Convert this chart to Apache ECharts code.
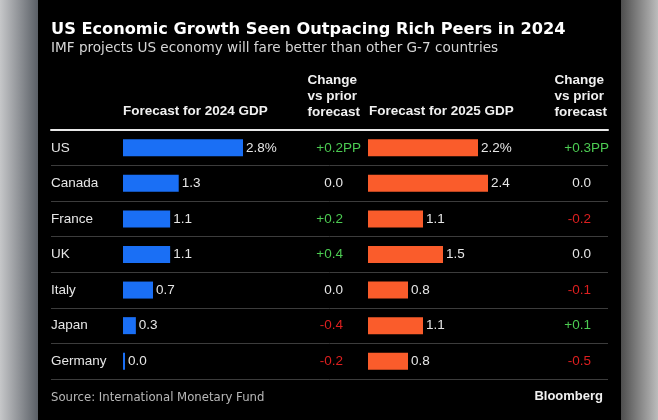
<!DOCTYPE html>
<html>
<head>
<meta charset="utf-8">
<script src="https://cdn.jsdelivr.net/npm/echarts@6/dist/echarts.min.js"></script>
<style>html,body{margin:0;padding:0;background:#000;}#c{width:658px;height:420px;}</style>
</head>
<body>
<div id="c"></div>
<script>
const countries = ['US', 'Canada', 'France', 'UK', 'Italy', 'Japan', 'Germany'];
const gdp2024 = [2.8, 1.3, 1.1, 1.1, 0.7, 0.3, 0.0];
const change2024 = [0.2, 0.0, 0.2, 0.4, 0.0, -0.4, -0.2];
const gdp2025 = [2.2, 2.4, 1.1, 1.5, 0.8, 1.1, 0.8];
const change2025 = [0.3, 0.0, -0.2, 0.0, -0.1, 0.1, -0.5];
const titleText = 'US Economic Growth Seen Outpacing Rich Peers in 2024';
const subtitleText = 'IMF projects US economy will fare better than other G-7 countries';
const header2024 = 'Forecast for 2024 GDP';
const header2025 = 'Forecast for 2025 GDP';
const headerChange = 'Change\nvs prior\nforecast';
const sourceText = 'Source: International Monetary Fund';
const brandText = 'Bloomberg';

const BODY = 'Liberation Sans, Arial, sans-serif';
const fmtVal = (v, i) => v.toFixed(1) + (i === 0 ? '%' : '');
const fmtChg = (v, i) => {
  const s = (v > 0 ? '+' : v < 0 ? '-' : '') + Math.abs(v).toFixed(1);
  const st = v > 0 ? 'g' : v < 0 ? 'r' : 'w';
  return '{' + st + '|' + s + '}' + (i === 0 ? '{' + st + 'p|PP}' : '');
};
const chgRich = {
  g: {color: '#4ccb52', fontFamily: BODY, fontSize: 13.5, align: 'left'},
  r: {color: '#dd1f1f', fontFamily: BODY, fontSize: 13.5, align: 'left'},
  w: {color: '#e6e6e6', fontFamily: BODY, fontSize: 13.5, align: 'left'},
  gp: {color: '#4ccb52', fontFamily: BODY, fontSize: 13.5, width: 0, align: 'left'},
  rp: {color: '#dd1f1f', fontFamily: BODY, fontSize: 13.5, width: 0, align: 'left'},
  wp: {color: '#e6e6e6', fontFamily: BODY, fontSize: 13.5, width: 0, align: 'left'}
};

const chart = echarts.init(document.getElementById('c'), null, {renderer: 'canvas'});
const hidden = {show: false};
const catAxisBase = {
  type: 'category', data: countries, inverse: true,
  axisLine: hidden, axisTick: hidden, splitLine: hidden
};
chart.setOption({
  backgroundColor: '#000',
  animation: false,
  graphic: [
    {type: 'rect', left: 0, top: 0, shape: {width: 38, height: 420},
     style: {fill: new echarts.graphic.LinearGradient(0, 0, 1, 0, [{offset: 0, color: '#c6c7c9'}, {offset: 1, color: '#5a5f66'}])}},
    {type: 'rect', left: 621, top: 0, shape: {width: 37, height: 420},
     style: {fill: new echarts.graphic.LinearGradient(0, 0, 1, 0, [{offset: 0, color: '#4e4e4e'}, {offset: 1, color: '#bcbcbc'}])}},
    {type: 'text', left: 51, top: 22, style: {text: titleText, fill: '#ffffff', font: 'bold 16.2px DejaVu Sans'}},
    {type: 'text', left: 51, top: 41, style: {text: subtitleText, fill: '#d6d6d6', font: '13.6px DejaVu Sans'}},
    {type: 'text', left: 123, top: 104, style: {text: header2024, fill: '#f0f0f0', font: 'bold 13.5px ' + BODY}},
    {type: 'text', left: 369, top: 104, style: {text: header2025, fill: '#f0f0f0', font: 'bold 13.5px ' + BODY}},
    {type: 'text', right: 298, top: 72, style: {text: headerChange, fill: '#f0f0f0', font: 'bold 13.5px ' + BODY, lineHeight: 16, align: 'right'}},
    {type: 'text', right: 51, top: 72, style: {text: headerChange, fill: '#f0f0f0', font: 'bold 13.5px ' + BODY, lineHeight: 16, align: 'right'}},
    {type: 'text', left: 51, top: 392, style: {text: sourceText, fill: '#b8b8b8', font: '11.7px DejaVu Sans'}},
    {type: 'text', right: 55, top: 390, style: {text: brandText, fill: '#f0f0f0', font: 'bold 13px ' + BODY}}
  ],
  grid: [
    {left: 51, top: 130, width: 557, height: 249},
    {left: 123, top: 130, width: 120, height: 249},
    {left: 368, top: 130, width: 120, height: 249}
  ],
  xAxis: [
    {gridIndex: 0, type: 'value', min: 0, max: 1, position: 'top',
     axisLine: {show: true, lineStyle: {color: '#e8e8e8', width: 2}}, axisTick: hidden, axisLabel: hidden, splitLine: hidden},
    {gridIndex: 1, type: 'value', min: 0, max: 2.8, show: false},
    {gridIndex: 2, type: 'value', min: 0, max: 2.4, show: false}
  ],
  yAxis: [
    Object.assign({}, catAxisBase, {gridIndex: 0, axisLabel: hidden,
      splitLine: {show: true, lineStyle: {color: '#3c3c3c', width: 1}}}),
    Object.assign({}, catAxisBase, {gridIndex: 1, position: 'left',
      axisLabel: {align: 'left', margin: 72, color: '#e6e6e6', fontFamily: BODY, fontSize: 13.5}}),
    Object.assign({}, catAxisBase, {gridIndex: 1, position: 'right',
      axisLabel: {align: 'right', margin: 100, formatter: (v, i) => fmtChg(change2024[i], i), rich: chgRich}}),
    Object.assign({}, catAxisBase, {gridIndex: 2, position: 'right',
      axisLabel: {align: 'right', margin: 103, formatter: (v, i) => fmtChg(change2025[i], i), rich: chgRich}})
  ],
  series: [
    {type: 'bar', xAxisIndex: 1, yAxisIndex: 1, data: gdp2024, barWidth: 17, barMinHeight: 2,
     itemStyle: {color: '#1a6ff5'},
     label: {show: true, position: 'right', distance: 3, color: '#e6e6e6', fontFamily: BODY, fontSize: 13.5,
       formatter: p => fmtVal(p.value, p.dataIndex)}},
    {type: 'bar', xAxisIndex: 2, yAxisIndex: 3, data: gdp2025, barWidth: 17, barMinHeight: 2,
     itemStyle: {color: '#fa5c2b'},
     label: {show: true, position: 'right', distance: 3, color: '#e6e6e6', fontFamily: BODY, fontSize: 13.5,
       formatter: p => fmtVal(p.value, p.dataIndex)}}
  ]
});
</script>
</body>
</html>
